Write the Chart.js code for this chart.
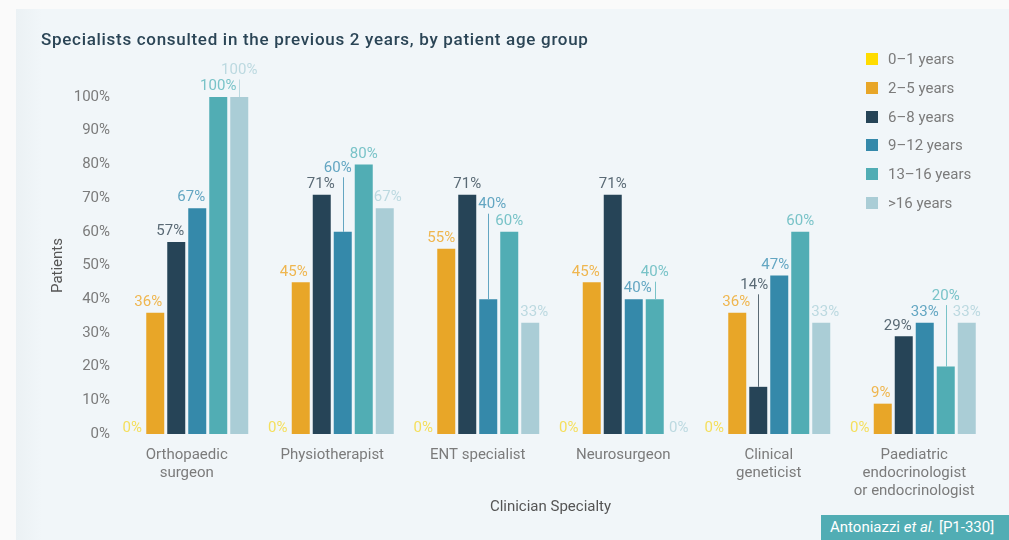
<!DOCTYPE html>
<html lang="en">
<head>
  <meta charset="UTF-8" />
  <title>Specialists consulted in the previous 2 years</title>
  <script src="https://cdn.jsdelivr.net/npm/chart.js@4.4.1/dist/chart.umd.min.js"></script>
  <style>
    html, body {
      margin: 0;
      padding: 0;
    }

    body {
      width: 1009px;
      height: 540px;
      background: #fafafa;
      font-family: Roboto, sans-serif;
      position: relative;
      overflow: hidden;
    }

    .panel {
      position: absolute;
      left: 16px;
      top: 9px;
      right: 0;
      bottom: 0;
      background: linear-gradient(to right, #ebf1f4 0px, #f1f6f9 26px);
    }

    .chart-box {
      position: absolute;
      left: 0;
      top: 0;
      width: 1009px;
      height: 540px;
    }

    h1 {
      position: absolute;
      left: 41px;
      top: 29px;
      margin: 0;
      font-size: 17px;
      letter-spacing: 0.7px;
      font-weight: 500;
      color: #2b4556;
      white-space: nowrap;
    }

    #legend {
      position: absolute;
      left: 866px;
      top: 45px;
      list-style: none;
      margin: 0;
      padding: 0;
    }

    #legend li {
      height: 28.7px;
      display: flex;
      align-items: center;
      font-size: 15px;
      color: #7b7b7b;
    }

    #legend .sw {
      width: 12px;
      height: 12px;
      margin-right: 10px;
    }

    .source {
      position: absolute;
      left: 821px;
      top: 515px;
      width: 188px;
      height: 25px;
      background: #51adb4;
      color: #fff;
      font-size: 15px;
      line-height: 25px;
      padding-left: 9px;
      box-sizing: border-box;
      white-space: nowrap;
    }
  </style>
</head>
<body>
  <div class="panel"></div>
  <div class="chart-box">
    <canvas id="specChart" width="1009" height="540"></canvas>
  </div>
  <h1>Specialists consulted in the previous 2 years, by patient age group</h1>
  <ul id="legend"></ul>
  <div class="source">Antoniazzi <i>et al.</i> [P1-330]</div>

  <script>
    // clinician specialties (x axis), multi-line labels
    const specialties = [
      ['Orthopaedic', 'surgeon'],
      'Physiotherapist',
      'ENT specialist',
      'Neurosurgeon',
      ['Clinical', 'geneticist'],
      ['Paediatric', 'endocrinologist', 'or endocrinologist']
    ];

    const ageGroups = ['0\u20131 years', '2\u20135 years', '6\u20138 years', '9\u201312 years', '13\u201316 years', '>16 years'];

    // % of patients per specialty
    const age0to1   = [0, 0, 0, 0, 0, 0];
    const age2to5   = [36, 45, 55, 45, 36, 9];
    const age6to8   = [57, 71, 71, 71, 14, 29];
    const age9to12  = [67, 60, 40, 40, 47, 33];
    const age13to16 = [100, 80, 60, 40, 60, 20];
    const ageOver16 = [100, 67, 33, 0, 33, 33];

    const yTicks = [0, 10, 20, 30, 40, 50, 60, 70, 80, 90, 100];

    const barColors   = ['#ffdc00', '#e8a628', '#264457', '#3589aa', '#51adb4', '#aacdd6'];
    const labelColors = ['#f5df5c', '#efb64f', '#5a6a75', '#63a6c2', '#79c3c8', '#bcd9e0'];

    // some value labels are pushed up (with a leader line) or nudged sideways so they don't collide
    const labelLift = [
      [0, 0, 0, 0, 0, 0],
      [0, 0, 0, 0, 0, 0],
      [0, 0, 0, 0, 91, 0],
      [0, 53, 84, 0, 0, 0],
      [0, 0, 0, 16, 0, 60],
      [16, 0, 0, 0, 0, 0]
    ];
    const labelShift = [
      [-2, -2, -2, -2, -2, -2],
      [-7, -7, -5, -6, -1, -2],
      [-6, -1, 0, 0, -4, -6],
      [-6, -5, 4, 4, -4, 0],
      [0, 0, 0, 0, 0, 0],
      [0, 3, 4, 3, 4, 0]
    ];

    const seriesValues = [age0to1, age2to5, age6to8, age9to12, age13to16, ageOver16];
    const textGrey = '#7b7b7b';

    // legend
    const legendEl = document.getElementById('legend');
    ageGroups.forEach((name, i) => {
      const li = document.createElement('li');
      li.innerHTML = `<span class="sw" style="background:${barColors[i]}"></span>${name}`;
      legendEl.appendChild(li);
    });

    const valueLabels = {
      id: 'valueLabels',
      afterDatasetsDraw(chart) {
        const ctx = chart.ctx;
        ctx.save();
        ctx.font = '15px Roboto';
        ctx.textAlign = 'center';
        ctx.textBaseline = 'middle';
        chart.data.datasets.forEach((ds, di) => {
          const meta = chart.getDatasetMeta(di);
          meta.data.forEach((bar, i) => {
            const v = ds.data[i];
            const lift = labelLift[di][i];
            const gap = v === 0 ? 5.5 : 10.5;
            const y = bar.y - gap - lift;
            ctx.fillStyle = labelColors[di];
            ctx.fillText(v + '%', bar.x + labelShift[di][i], y);
            if (lift) {
              const lx = Math.round(bar.x) + 0.5;
              ctx.strokeStyle = labelColors[di];
              ctx.lineWidth = 1;
              ctx.beginPath();
              ctx.moveTo(lx, y + 9);
              ctx.lineTo(lx, bar.y);
              ctx.stroke();
            }
          });
        });
        ctx.restore();
      }
    };

    const ctx = document.getElementById('specChart').getContext('2d');
    new Chart(ctx, {
      type: 'bar',
      data: {
        labels: specialties,
        datasets: ageGroups.map((name, i) => ({
          label: name,
          data: seriesValues[i],
          backgroundColor: barColors[i],
          borderWidth: 0,
          categoryPercentage: 0.866,
          barPercentage: 0.857
        }))
      },
      options: {
        responsive: false,
        animation: false,
        layout: {
          padding: { left: 45, right: 22, top: 97, bottom: 20 }
        },
        plugins: {
          legend: { display: false },
          tooltip: { enabled: false }
        },
        scales: {
          x: {
            grid: { display: false, drawTicks: false },
            border: { display: false },
            ticks: {
              color: textGrey,
              font: { family: 'Roboto', size: 15 },
              padding: 12,
              maxRotation: 0,
              autoSkip: false
            },
            title: {
              display: true,
              text: 'Clinician Specialty',
              color: '#555',
              font: { family: 'Roboto', size: 15 }
            },
            afterFit(scale) { scale.height = 86; }
          },
          y: {
            min: yTicks[0],
            max: yTicks[yTicks.length - 1],
            afterBuildTicks(scale) { scale.ticks = yTicks.map(v => ({ value: v })); },
            grid: { display: false, drawTicks: false },
            border: { display: false },
            ticks: {
              color: textGrey,
              font: { family: 'Roboto', size: 15 },
              padding: 4,
              callback: v => v + '%'
            },
            title: {
              display: true,
              text: 'Patients',
              color: '#555',
              font: { family: 'Roboto', size: 15 }
            },
            afterFit(scale) { scale.width = 69; }
          }
        }
      },
      plugins: [valueLabels]
    });
  </script>
</body>
</html>
